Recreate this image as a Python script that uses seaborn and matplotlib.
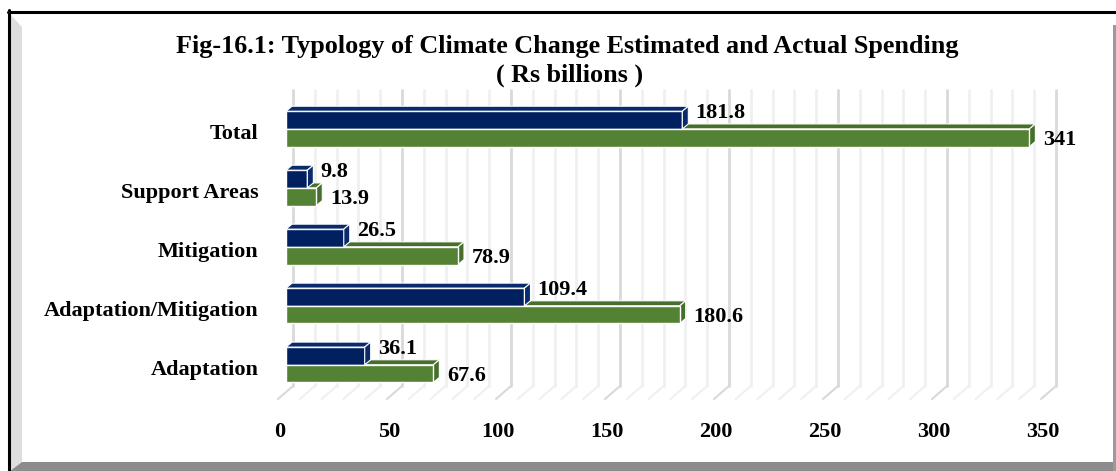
import matplotlib
matplotlib.use("Agg")
import matplotlib.pyplot as plt
import matplotlib.transforms as mtransforms
from matplotlib.patches import Polygon
from matplotlib.lines import Line2D
import seaborn as sns
import pandas as pd

# ---------------- data ----------------
categories = ["Total", "Support Areas", "Mitigation", "Adaptation/Mitigation", "Adaptation"]
estimated = [181.8, 9.8, 26.5, 109.4, 36.1]
actual = [341, 13.9, 78.9, 180.6, 67.6]
series_names = ["Estimated", "Actual"]
x_ticks = [0, 50, 100, 150, 200, 250, 300, 350]
title_line1 = "Fig-16.1: Typology of Climate Change Estimated and Actual Spending"
title_line2 = "( Rs billions )"

df = pd.DataFrame({
    "Category": categories * 2,
    "Series": [series_names[0]] * len(categories) + [series_names[1]] * len(categories),
    "Value": estimated + actual,
})

NAVY = "#002060"
GREEN = "#548235"
NAVY_TOP = "#0a2a6e"
GREEN_TOP = "#466f2c"

sns.set_theme(style="white")
plt.rcParams['font.family'] = ['Liberation Serif', 'DejaVu Serif']
plt.rcParams['font.weight'] = 'bold'
plt.rcParams['text.color'] = 'black'
plt.rcParams['xtick.color'] = 'black'
plt.rcParams['ytick.color'] = 'black'

W, H = 1116, 471
fig = plt.figure(figsize=(W / 100, H / 100), dpi=100)
fig.patch.set_facecolor("white")

def fx(x):
    return x / W

def fy(y):
    return 1 - y / H

# ---------------- frame decoration ----------------
fig.add_artist(Polygon([(fx(10), fy(14)), (fx(22), fy(27)), (fx(22), fy(462)), (fx(10), fy(471))],
                       closed=True, transform=fig.transFigure, facecolor="#dedede", edgecolor="none"))
fig.add_artist(Polygon([(fx(10), fy(471)), (fx(W), fy(471)), (fx(W), fy(462)), (fx(22), fy(462))],
                       closed=True, transform=fig.transFigure, facecolor="#8c8c8c", edgecolor="none"))
fig.add_artist(Polygon([(fx(1113), fy(25)), (fx(W), fy(25)), (fx(W), fy(471)), (fx(1113), fy(471))],
                       closed=True, transform=fig.transFigure, facecolor="#9a9a9a", edgecolor="none"))
fig.add_artist(Line2D([fx(8.5), fx(8.5)], [fy(10), fy(471)], transform=fig.transFigure,
                      color="black", lw=2.2))
fig.add_artist(Line2D([fx(8), fx(W)], [fy(11.5), fy(11.5)], transform=fig.transFigure,
                      color="black", lw=2.2))

# ---------------- axes ----------------
ax_left, ax_right, ax_top, ax_bottom = 286, 1049, 90, 386
ax = fig.add_axes([fx(ax_left), fy(ax_bottom), (ax_right - ax_left) / W, (ax_bottom - ax_top) / H])
ax.set_facecolor("none")

xmax = 350
ppu = (ax_right - ax_left) / xmax          # pixels per data unit (x)
ax.set_xlim(0, xmax)

# gridlines (3-D back wall + floor chevrons)
xt = ax.get_xaxis_transform()
depth_x = 7 / ppu
floor_h = 13 / (ax_bottom - ax_top)
for v in range(0, xmax + 1, 10):
    col = "#d9d9d9" if v % 50 == 0 else "#f0f0f0"
    ax.plot([v + depth_x, v + depth_x], [0, 1], transform=xt, color=col, lw=2, zorder=1, clip_on=False)
    ax.plot([v + depth_x, v - 8 / ppu], [0, -floor_h], transform=xt, color=col, lw=1.5, zorder=1, clip_on=False)

sns.barplot(data=df, y="Category", x="Value", hue="Series", order=categories,
            hue_order=series_names, palette=[NAVY, GREEN], width=0.6, orient="h",
            ax=ax, legend=False, edgecolor="white", linewidth=1, saturation=1, zorder=3)

n = len(categories)
ylim_top, ylim_bot = -0.66, n - 1 + 0.36
ax.set_ylim(ylim_bot, ylim_top)
ppu_y = (ax_bottom - ax_top) / (ylim_bot - ylim_top)

# 3-D faces for bars
dx = 6 / ppu
dy = 5 / ppu_y
for ci, container in enumerate(ax.containers):
    face_top = NAVY_TOP if ci == 0 else GREEN_TOP
    z = 3.5 if ci == 0 else 2.5
    for rect in container:
        x0 = rect.get_x()
        x1 = x0 + rect.get_width()
        ylo = rect.get_y()
        h = rect.get_height()
        top = Polygon([(x0, ylo), (x1, ylo), (x1 + dx, ylo - dy), (x0 + dx, ylo - dy)], closed=True,
                      facecolor=face_top, edgecolor="white", lw=0.8, zorder=z)
        side = Polygon([(x1, ylo), (x1 + dx, ylo - dy), (x1 + dx, ylo + h - dy), (x1, ylo + h)], closed=True,
                       facecolor=face_top, edgecolor="white", lw=0.8, zorder=z)
        ax.add_patch(top)
        ax.add_patch(side)

# value labels
for ci, container in enumerate(ax.containers):
    vals = estimated if ci == 0 else actual
    off = (9.5, 5) if ci == 0 else (10, -1.5)
    for rect, v in zip(container, vals):
        x1 = rect.get_x() + rect.get_width()
        yc = rect.get_y() + rect.get_height() / 2
        ax.annotate(f"{v:g}", xy=(x1, yc), xytext=off, textcoords="offset points",
                    ha="left", va="center", fontsize=16, fontweight="bold", color="black",
                    zorder=6, annotation_clip=False)

# ticks
for s in ax.spines.values():
    s.set_visible(False)
ax.set_xticks(x_ticks)
ax.set_xticklabels([str(t) for t in x_ticks], fontsize=16, fontweight="bold", color="black")
ax.set_yticks(range(n))
ax.set_yticklabels(categories, fontsize=16, fontweight="bold", color="black")
ax.tick_params(axis="x", length=0, pad=26, colors="black")
ax.tick_params(axis="y", length=0, pad=20, colors="black")
shift = mtransforms.ScaledTranslation(-6 / 100, 0, fig.dpi_scale_trans)
for lab in ax.get_xticklabels():
    lab.set_transform(lab.get_transform() + shift)
shift_y = mtransforms.ScaledTranslation(0, -3 / 100, fig.dpi_scale_trans)
for lab in ax.get_yticklabels():
    lab.set_transform(lab.get_transform() + shift_y)
ax.set_xlabel("")
ax.set_ylabel("")
ax.grid(False)

# titles
fig.text(fx(567), fy(46), title_line1, ha="center", va="center", fontsize=18.8,
         fontweight="bold", color="black")
fig.text(fx(570), fy(75), title_line2, ha="center", va="center", fontsize=18.8,
         fontweight="bold", color="black")

fig.savefig("out.png", dpi=100)
